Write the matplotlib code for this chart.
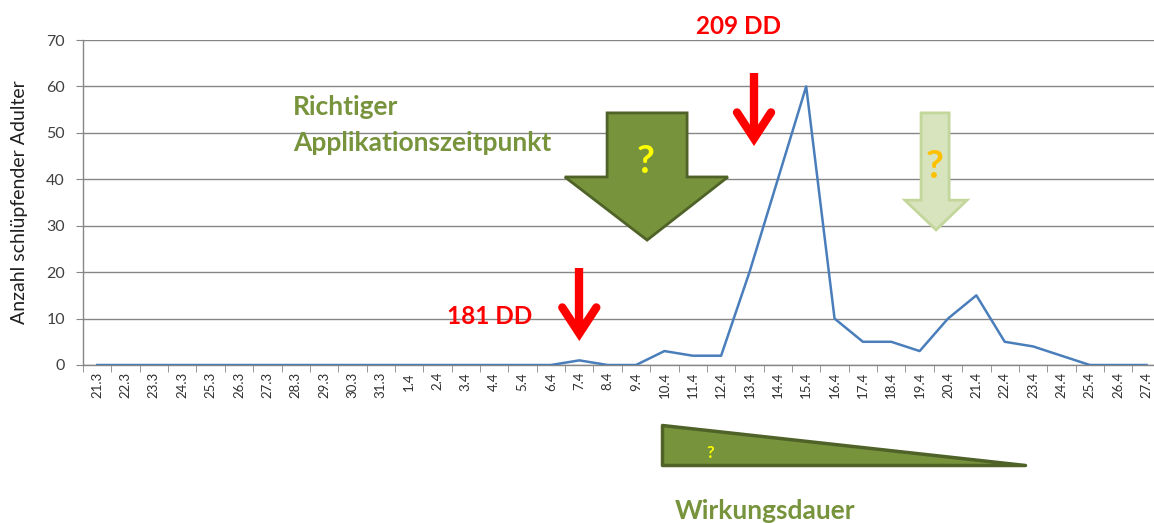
"""
plot.py - Schlupfverlauf der Adulten mit Applikationszeitpunkt (Excel-Nachbau).

Saves out.png (1154x523).
"""

import matplotlib

matplotlib.use("Agg")
import matplotlib.pyplot as plt
from matplotlib.patches import Polygon

DATES = ["21.3", "22.3", "23.3", "24.3", "25.3", "26.3", "27.3", "28.3",
         "29.3", "30.3", "31.3", "1.4", "2.4", "3.4", "4.4", "5.4", "6.4",
         "7.4", "8.4", "9.4", "10.4", "11.4", "12.4", "13.4", "14.4", "15.4",
         "16.4", "17.4", "18.4", "19.4", "20.4", "21.4", "22.4", "23.4",
         "24.4", "25.4", "26.4", "27.4"]
COUNTS = [0, 0, 0, 0, 0, 0, 0, 0,
          0, 0, 0, 0, 0, 0, 0, 0, 0,
          1, 0, 0, 3, 2, 2, 20, 40, 60,
          10, 5, 5, 3, 10, 15, 5, 4,
          2, 0, 0, 0]
Y_TICKS = [0, 10, 20, 30, 40, 50, 60, 70]

LINE_BLUE = "#4A7EBB"
GRID_GREY = "#868686"
RED = "#FF0000"
OLIVE = "#77933C"
OLIVE_DARK = "#4F6228"
PALE_GREEN = "#D7E4BD"
PALE_EDGE = "#C3D69B"
YELLOW = "#FFFF00"
ORANGE = "#FFC000"

plt.rcParams["font.family"] = ["Lato", "DejaVu Sans"]


def red_arrow(ax, x, y_top, y_tip):
    """Excel-style red line arrow pointing down (data coords)."""
    ax.plot([x, x], [y_top, y_tip + 2], color=RED, lw=6,
            solid_capstyle="butt", clip_on=False, zorder=5)
    ax.plot([x - 0.6, x, x + 0.6], [y_tip + 6.8, y_tip + 1.2, y_tip + 6.8],
            color=RED, lw=6, solid_capstyle="round", solid_joinstyle="miter",
            clip_on=False, zorder=5)


def block_arrow(ax, x0, x1, hx0, hx1, y_top, y_head, tip, face, edge, lw):
    pts = [(x0, y_top), (x1, y_top), (x1, y_head), (hx1, y_head), tip,
           (hx0, y_head), (x0, y_head)]
    ax.add_patch(Polygon(pts, closed=True, facecolor=face, edgecolor=edge,
                         lw=lw, joinstyle="miter", clip_on=False, zorder=4))


def main():
    fig = plt.figure(figsize=(11.54, 5.23), dpi=100)
    ax = fig.add_axes([83 / 1154, 158 / 523, 1077.7 / 1154, 325 / 523])

    x = range(len(DATES))
    ax.plot(x, COUNTS, color=LINE_BLUE, lw=1.8, zorder=3)

    ax.set_xlim(-0.5, len(DATES) - 0.5)
    ax.set_ylim(0, 70)
    ax.set_yticks(Y_TICKS)
    ax.set_xticks(list(x))
    ax.set_xticklabels(DATES, rotation=90, fontsize=9.5, color="#303030")
    ax.set_xticks([i - 0.5 for i in range(len(DATES) + 1)], minor=True)
    ax.tick_params(axis="x", which="major", length=0, pad=5)
    ax.tick_params(axis="x", which="minor", length=5, color=GRID_GREY,
                   direction="out")
    ax.tick_params(axis="y", length=5, color=GRID_GREY, labelsize=11.5,
                   labelcolor="#404040", pad=8)
    ax.grid(axis="y", color=GRID_GREY, lw=1.0)
    ax.set_axisbelow(True)
    for side in ("top", "right"):
        ax.spines[side].set_visible(False)
    for side in ("left", "bottom"):
        ax.spines[side].set_color(GRID_GREY)
        ax.spines[side].set_linewidth(1.0)

    ax.set_ylabel("Anzahl schlüpfender Adulter", fontsize=14, color="#202020")
    ax.yaxis.set_label_coords(-0.051, 0.5)

    # red markers: 181 DD / 209 DD
    red_arrow(ax, 17.0, 20.9, 5.6)
    red_arrow(ax, 23.16, 62.9, 47.6)
    fig.text(490 / 1154, 1 - 317 / 523, "181 DD", color=RED, fontsize=17.5,
             fontweight="bold", ha="center", va="center")
    fig.text(738 / 1154, 1 - 27 / 523, "209 DD", color=RED, fontsize=17.5,
             fontweight="bold", ha="center", va="center")

    # large olive block arrow and the pale one on the right
    block_arrow(ax, 17.98, 20.80, 16.49, 22.24, 54.3, 40.5, (19.39, 26.9),
                OLIVE, OLIVE_DARK, 2.0)
    ax.text(19.35, 43.8, "?", color=YELLOW, fontsize=28, fontweight="bold",
            ha="center", va="center", zorder=6)
    block_arrow(ax, 29.05, 30.04, 28.48, 30.67, 54.3, 35.5, (29.58, 29.1),
                PALE_GREEN, PALE_EDGE, 2.0)
    ax.text(29.54, 42.8, "?", color=ORANGE, fontsize=28, fontweight="bold",
            ha="center", va="center", zorder=6)

    fig.text(293 / 1154, 1 - 107 / 523, "Richtiger", color=OLIVE,
             fontsize=19, fontweight="bold", ha="left", va="center")
    fig.text(293 / 1154, 1 - 143 / 523, "Applikationszeitpunkt", color=OLIVE,
             fontsize=19, fontweight="bold", ha="left", va="center")

    # Wirkungsdauer wedge below the axis
    wedge = Polygon([(19.91, -12.9), (19.91, -21.5), (32.72, -21.5)],
                    closed=True, facecolor=OLIVE, edgecolor=OLIVE_DARK,
                    lw=2.5, joinstyle="round", clip_on=False, zorder=4)
    ax.add_patch(wedge)
    ax.text(21.6, -19.0, "?", color=YELLOW, fontsize=12, fontweight="bold",
            ha="center", va="center", clip_on=False, zorder=6)
    fig.text(675 / 1154, 4 / 523, "Wirkungsdauer", color=OLIVE, fontsize=19,
             fontweight="bold", ha="left", va="baseline")

    fig.savefig("out.png", dpi=100)


if __name__ == "__main__":
    main()
